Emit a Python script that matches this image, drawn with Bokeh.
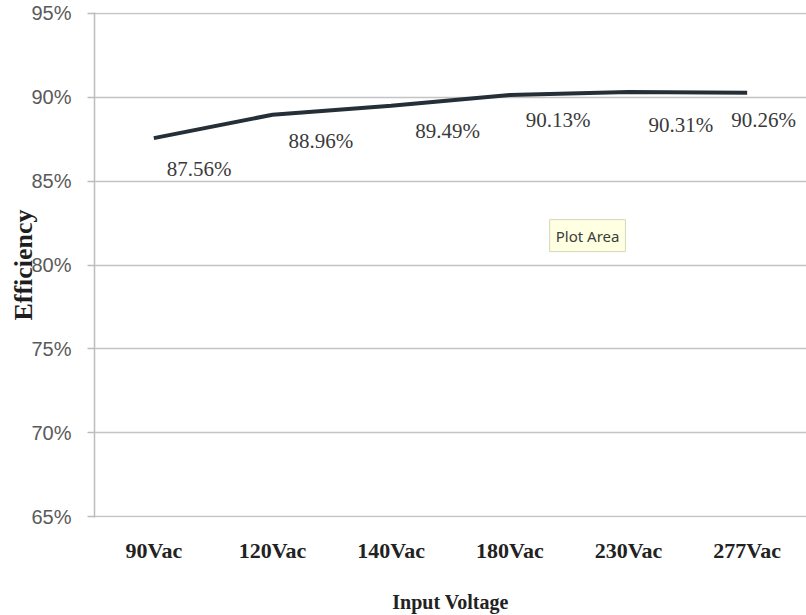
from bokeh.plotting import figure
from bokeh.models import (FactorRange, Range1d, FixedTicker, NumeralTickFormatter,
                          ColumnDataSource, LabelSet, Label)
from bokeh.embed import file_html
from bokeh.resources import INLINE

# Efficiency at each input voltage
categories = ["90Vac", "120Vac", "140Vac", "180Vac", "230Vac", "277Vac"]
efficiency = [87.56, 88.96, 89.49, 90.13, 90.31, 90.26]
y_ticks = [0.65, 0.70, 0.75, 0.80, 0.85, 0.90, 0.95]

# pixel nudges for the value labels (left edge / vertical)
label_dx = [13, 16, 24, 16, 20, -16]
label_dy = [-31, -26, -25, -25, -33, -27]

frac = [v / 100.0 for v in efficiency]
src = ColumnDataSource(dict(
    x=categories, y=frac,
    txt=["%.2f%%" % v for v in efficiency],
    dx=label_dx, dy=label_dy,
))

p = figure(width=806, height=615, output_backend="svg", toolbar_location=None,
           x_range=FactorRange(*categories, range_padding=0),
           y_range=Range1d(0.6495, 0.9505),
           min_border_left=94, min_border_right=0, min_border_top=12,
           min_border_bottom=0)
p.outline_line_color = None
p.background_fill_color = "white"
p.border_fill_color = "white"

# line
p.line("x", "y", source=src, line_color="#252f38", line_width=4)

# value labels
p.add_layout(LabelSet(x="x", y="y", text="txt", source=src,
                      x_offset="dx", y_offset="dy",
                      text_font="Liberation Serif", text_font_size="21px",
                      text_color="#3a3a3a", text_align="left",
                      text_baseline="middle"))

# y axis
yax = p.yaxis[0]
yax.ticker = FixedTicker(ticks=y_ticks)
yax.formatter = NumeralTickFormatter(format="0%")
yax.major_label_text_font = "Liberation Sans"
yax.major_label_text_font_size = "20px"
yax.major_label_text_color = "#5a5a5a"
yax.major_label_standoff = 16
yax.axis_line_color = "#bcbcbc"
yax.axis_line_width = 1.5
yax.major_tick_line_color = "#bcbcbc"
yax.major_tick_line_width = 1.5
yax.major_tick_in = 0
yax.major_tick_out = 7
yax.minor_tick_line_color = None
yax.axis_label = "Efficiency"
yax.axis_label_text_font = "Liberation Serif"
yax.axis_label_text_font_style = "bold"
yax.axis_label_text_font_size = "26px"
yax.axis_label_text_color = "#1e1e1e"
yax.axis_label_standoff = -10

# x axis
xax = p.xaxis[0]
xax.axis_line_color = None
xax.major_tick_line_color = None
xax.minor_tick_line_color = None
xax.major_label_text_font = "Liberation Serif"
xax.major_label_text_font_style = "bold"
xax.major_label_text_font_size = "22px"
xax.major_label_text_color = "#222222"
xax.major_label_standoff = 14
xax.axis_label = "Input Voltage"
xax.axis_label_text_font = "Liberation Serif"
xax.axis_label_text_font_style = "bold"
xax.axis_label_text_font_size = "20px"
xax.axis_label_text_color = "#222222"
xax.axis_label_standoff = 25

# grid
p.xgrid.grid_line_color = None
p.ygrid.ticker = FixedTicker(ticks=y_ticks)
p.ygrid.grid_line_color = "#c4c4c4"
p.ygrid.grid_line_width = 1.5

# "Plot Area" tooltip box with a soft shadow
p.add_layout(Label(x=4.155, y=0.8175, x_offset=3, y_offset=-3, text="Plot Area",
                   text_font="Noto Sans", text_font_size="15px",
                   text_color=None, text_align="center", text_baseline="middle",
                   background_fill_color="#9a9a9a", background_fill_alpha=0.45,
                   padding=6))
p.add_layout(Label(x=4.155, y=0.8175, text="Plot Area",
                   text_font="Noto Sans", text_font_size="15px",
                   text_color="#3c3c3c", text_align="center", text_baseline="middle",
                   background_fill_color="#ffffe1", border_line_color="#d6d6b8",
                   padding=6))

open("out.html", "w").write(file_html(p, INLINE))
